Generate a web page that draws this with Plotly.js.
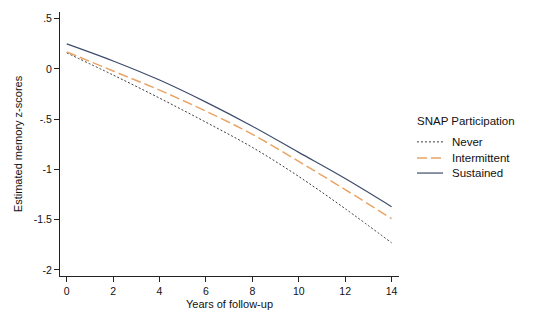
<!DOCTYPE html>
<html>
<head>
<meta charset="utf-8">
<script src="https://cdn.plot.ly/plotly-3.0.1.min.js"></script>
<style>html,body{margin:0;padding:0;background:#fff;}#chart{width:540px;height:324px;}</style>
</head>
<body>
<div id="chart"></div>
<script>
const years = [0, 2, 4, 6, 8, 10, 12, 14];
const never = [0.16, -0.06, -0.29, -0.53, -0.78, -1.07, -1.39, -1.73];
const intermittent = [0.17, -0.02, -0.21, -0.42, -0.65, -0.92, -1.20, -1.49];
const sustained = [0.25, 0.08, -0.11, -0.33, -0.57, -0.83, -1.09, -1.37];
const seriesNames = ["Never", "Intermittent", "Sustained"];
const legendTitle = "SNAP Participation";
const yTickVals = [0.5, 0, -0.5, -1, -1.5, -2];
const yTickText = [".5", "0", "-.5", "-1", "-1.5", "-2"];
const xTickVals = [0, 2, 4, 6, 8, 10, 12, 14];

const font = "Liberation Sans, Arial, Helvetica, sans-serif";
const styles = [
  {color: "#3a3a3a", width: 1, dash: "2px,2px"},
  {color: "#e8a466", width: 1.5, dash: "10px,4px"},
  {color: "#3d4c6c", width: 1.2, dash: "solid"}
];
const seriesData = [never, intermittent, sustained];
const traces = seriesData.map((ys, i) => ({
  x: years, y: ys, name: seriesNames[i], mode: "lines",
  line: {color: styles[i].color, width: styles[i].width, dash: styles[i].dash, shape: "spline"},
  showlegend: false
}));

// manual legend (compact spacing like the reference)
const legX0 = 1.053, legX1 = 1.130, legTextX = 1.150;
const legYs = [0.508, 0.447, 0.390];
const annotations = [{
  xref: "paper", yref: "paper", x: 1.048, y: 0.587, xanchor: "left", yanchor: "middle",
  text: legendTitle, showarrow: false, font: {size: 11.5, color: "#111"}
}];
const shapes = [];
seriesNames.forEach((n, i) => {
  annotations.push({
    xref: "paper", yref: "paper", x: legTextX, y: legYs[i], xanchor: "left", yanchor: "middle",
    text: n, showarrow: false, font: {size: 11.5, color: "#111"}
  });
  shapes.push({
    type: "line", xref: "paper", yref: "paper", x0: legX0, x1: legX1, y0: legYs[i], y1: legYs[i],
    line: {color: styles[i].color, width: styles[i].width, dash: styles[i].dash}
  });
});

const layout = {
  width: 540, height: 324,
  margin: {l: 60, r: 141, t: 12, b: 48},
  paper_bgcolor: "#fff", plot_bgcolor: "#fff",
  font: {family: font, size: 10, color: "#111"},
  xaxis: {
    range: [-0.29, 14.32], tickvals: xTickVals, ticks: "outside", ticklen: 5, tickcolor: "#222",
    showline: true, linecolor: "#222", linewidth: 1, showgrid: false, zeroline: false,
    tickfont: {size: 10.5},
    title: {text: "Years of follow-up", font: {size: 11}, standoff: 4}
  },
  yaxis: {
    range: [-2.06, 0.567], tickvals: yTickVals, ticktext: yTickText, ticks: "outside", ticklen: 5, tickcolor: "#222",
    showline: true, linecolor: "#222", linewidth: 1, showgrid: false, zeroline: false,
    tickfont: {size: 10.5},
    title: {text: "Estimated memory z-scores", font: {size: 11}, standoff: 8}
  },
  showlegend: false,
  annotations: annotations,
  shapes: shapes
};
Plotly.newPlot("chart", traces, layout, {displayModeBar: false, staticPlot: true});
</script>
</body>
</html>
